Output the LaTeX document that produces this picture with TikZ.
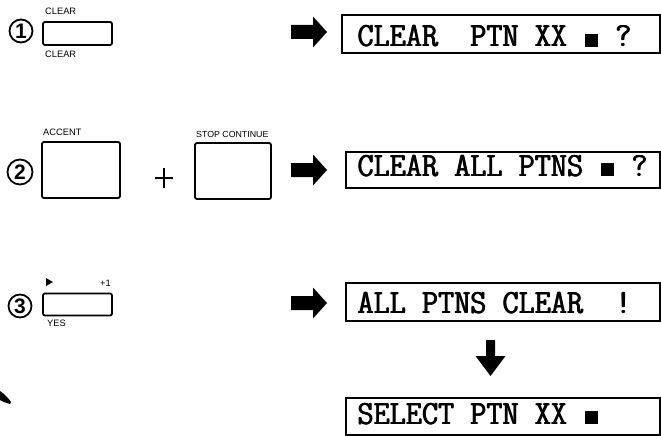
\documentclass[tikz,border=0pt]{standalone}
\usepackage{fontspec}
\newfontfamily\lblfont{Liberation Sans}
\newcommand\blk{\makebox[0pt][l]{\hspace{2pt}\rule{14pt}{13pt}}\phantom{X}}
\newcommand\heavy[1]{\scalebox{0.92}[1]{\rlap{#1}\rlap{\hspace{0.5pt}#1}\hspace{1pt}#1}}
\tikzset{
  disp/.style={draw, line width=1.6pt, minimum width=#1, inner sep=0},
  keybox/.style={draw, line width=1.8pt, rounded corners=2pt, inner sep=0},
  lcdtxt/.style={anchor=base west, inner sep=0, font=\ttfamily\fontsize{34}{35}\selectfont},
  keylbl/.style={anchor=base west, inner sep=0, font=\lblfont\fontsize{9.3}{9.3}\selectfont},
  num/.style={circle, draw, line width=1.8pt, inner sep=0, font=\lblfont\bfseries\fontsize{21}{21}\selectfont},
}
\begin{document}
\begin{tikzpicture}[x=1pt, y=-1pt]
\path[use as bounding box] (0,0) rectangle (661,436);

% circled numbers
\node[num, minimum size=23pt] (c1) at (21,31) {1};
\node[num, minimum size=25pt] (c2) at (20,172) {2};
\node[num, minimum size=23pt] (c3) at (20,306) {3};

% keys
\node[keybox, minimum width=69pt, minimum height=23pt] (k1) at (77.5,33.5) {};
\node[keylbl] (k1t) at (45,15) {CLEAR};
\node[keylbl] (k1b) at (45,58) {CLEAR};

\node[keybox, minimum width=78pt, minimum height=56pt] (k2a) at (81,170) {};
\node[keylbl] (k2at) at (43,135) {ACCENT};
\node[keybox, minimum width=76pt, minimum height=56pt] (k2b) at (233,171) {};
\node[keylbl, font=\lblfont\fontsize{8.8}{8.8}\selectfont] (k2bt) at (196,137) {STOP CONTINUE};
\node[inner sep=0] (plus) at (164,178) {};
\draw[line width=1.5pt] ([xshift=-9pt]plus.center) -- ([xshift=9pt]plus.center);
\draw[line width=1.5pt] ([yshift=-10pt]plus.center) -- ([yshift=10pt]plus.center);

\node[keybox, minimum width=69pt, minimum height=22pt] (k3) at (77.5,304.5) {};
\coordinate (play) at (49,282);
\begin{scope}[shift={(play)}]
  \fill (-3,-4) -- (4,0) -- (-3,4) -- cycle;
\end{scope}
\node[keylbl] (k3p) at (100,286) {+1};
\node[keylbl] (k3b) at (47,326) {YES};

% block arrows
\foreach \ya/\yy in {a1/32, a2/170, a3/303} {
  \coordinate (\ya) at (291,\yy);
  \begin{scope}[shift={(\ya)}]
    \fill (0,-7) -- (22,-7) -- (22,-15.5) -- (36,0) -- (22,15.5) -- (22,7) -- (0,7) -- cycle;
  \end{scope}
}
\coordinate (dn) at (490.5,340);
\begin{scope}[shift={(dn)}]
  \fill (-4.5,0) -- (4.5,0) -- (4.5,16) -- (15,16) -- (0,36) -- (-15,16) -- (-4.5,16) -- cycle;
\end{scope}

% displays
\node[disp=318pt, minimum height=38pt] (d1) at (501,34) {};
\node[lcdtxt] (t1) at (357,47) {\heavy{CLEAR~~PTN~XX~\blk~?}};
\node[disp=314pt, minimum height=36pt] (d2) at (503,170) {};
\node[lcdtxt] (t2) at (357,176) {\heavy{CLEAR~ALL~PTNS~\blk~?}};
\node[disp=314pt, minimum height=38pt] (d3) at (503,302) {};
\node[lcdtxt] (t3) at (357,313) {\heavy{ALL~PTNS~CLEAR~~!}};
\node[disp=314pt, minimum height=37pt] (d4) at (503,416.5) {};
\node[lcdtxt] (t4) at (357,424) {\heavy{SELECT~PTN~XX~\blk}};

% scan mark
\fill (0,391) -- (4,394) -- (8,398) -- (11,402) -- (10,404) -- (4,402) -- (0,400) -- cycle;
\end{tikzpicture}
\end{document}
